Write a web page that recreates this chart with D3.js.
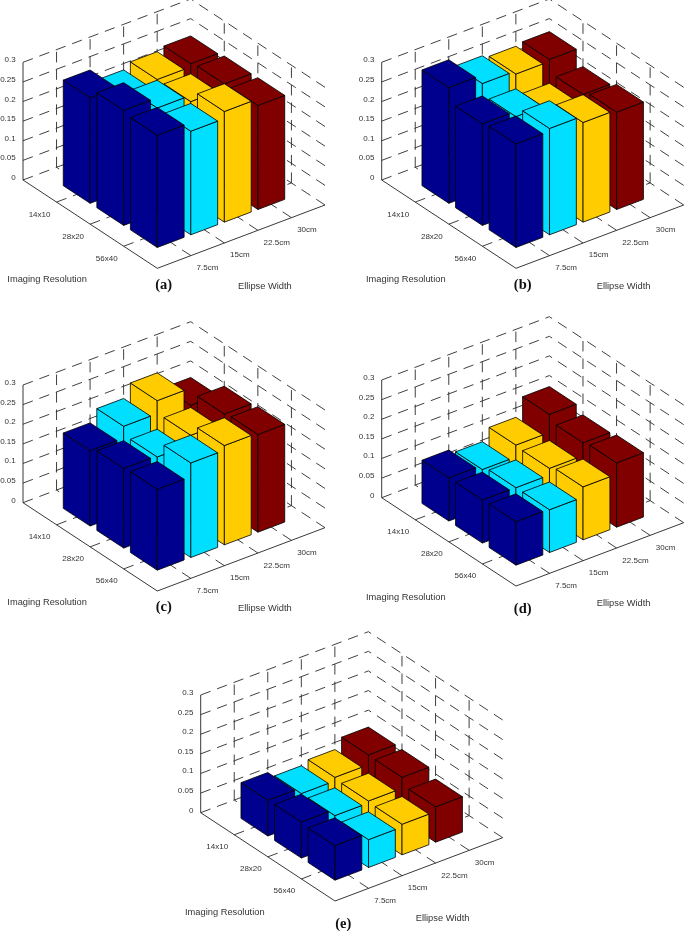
<!DOCTYPE html>
<html><head><meta charset="utf-8">
<style>html,body{margin:0;padding:0;background:#fff}svg{display:block;filter:blur(.4px)}text{font-family:"Liberation Sans",Arial,sans-serif}</style>
<script src="https://cdn.jsdelivr.net/npm/d3@7/dist/d3.min.js"></script>
</head><body><div id="chart"></div>
<script>
const resolutionLabels = ["14x10","28x20","56x40"];
const ellipseLabels = ["7.5cm","15cm","22.5cm","30cm"];
const zTicks = [0,0.05,0.1,0.15,0.2,0.25,0.3];
const zTickLabels = ["0","0.05","0.1","0.15","0.2","0.25","0.3"];
const barColors = ["#00008f","#00dfff","#ffcc00","#800000"];
const panelNames = ["(a)","(b)","(c)","(d)","(e)"];
// rows: resolution; columns: ellipse width
const valuesA = [[.269,.237,.251,.259],[.293,.267,.251,.264],[.286,.264,.282,.265]];
const valuesB = [[.295,.273,.265,.270],[.259,.245,.227,.237],[.264,.271,.254,.248]];
const valuesC = [[.192,.222,.255,.211],[.203,.200,.223,.245],[.206,.241,.253,.249]];
const valuesD = [[.110,.099,.129,.175],[.110,.109,.126,.159],[.111,.109,.135,.164]];
const valuesE = [[.091,.076,.085,.110],[.092,.076,.081,.109],[.088,.071,.078,.090]];
const panelValues = [valuesA,valuesB,valuesC,valuesD,valuesE];
const panelOrigins = [[23,180],[381.7,180],[23,502.7],[381.7,497.7],[200.7,812.7]];
const captionPositions = [[163.7,288.5],[522.7,288.5],[163.7,611],[522.7,612.5],[343.3,927.5]];

const W=685,H=931,half=0.4,rMax=4,eMax=5,zMax=0.3;
const rX=d3.scaleLinear([0,rMax],[0,134.3]), rY=d3.scaleLinear([0,rMax],[0,88.3]);
const eX=d3.scaleLinear([0,eMax],[0,167.7]), eY=d3.scaleLinear([0,eMax],[0,-63.3]);
const zY=d3.scaleLinear([0,zMax],[0,-117.7]);
const proj=(e,r,z)=>[rX(r)+eX(e), rY(r)+eY(e)+zY(z)];
const line=d3.line();
const svg=d3.select("#chart").append("svg").attr("width",W).attr("height",H);
const gridC="#2a2a2a", axisC="#222", dash="10.5 7";

panelValues.forEach((vals,pi)=>{
  const g=svg.append("g").attr("transform",`translate(${panelOrigins[pi]})`);
  const dashed=(a,b)=>g.append("path").attr("d",line([a,b])).attr("fill","none").attr("stroke",gridC).attr("stroke-width",.9).attr("stroke-dasharray",dash);
  const solid=(a,b)=>g.append("path").attr("d",line([a,b])).attr("fill","none").attr("stroke",axisC).attr("stroke-width",.9);
  // wall grids
  zTicks.forEach(z=>{
    dashed(proj(0,0,z),proj(eMax,0,z));
    dashed(proj(eMax,rMax,z),proj(eMax,0,z));
  });
  d3.range(1,eMax).forEach(e=>{
    dashed(proj(e,0,0),proj(e,0,zMax));
    dashed(proj(e,rMax,0),proj(e,0,0));
  });
  d3.range(1,rMax).forEach(r=>{
    dashed(proj(eMax,r,0),proj(eMax,r,zMax));
    dashed(proj(0,r,0),proj(eMax,r,0));
  });
  // axes
  solid(proj(0,0,0),proj(0,0,zMax));
  solid(proj(0,0,0),proj(0,rMax,0));
  solid(proj(0,rMax,0),proj(eMax,rMax,0));
  // bars, painted back to front
  const bars=[];
  vals.forEach((row,ri)=>row.forEach((v,ei)=>bars.push({r:ri+1,e:ei+1,v,c:ei})));
  bars.sort((a,b)=>a.r-b.r||b.e-a.e);
  const bg=g.append("g").selectAll("g").data(bars).join("g")
    .attr("fill",d=>barColors[d.c]).attr("stroke","#000").attr("stroke-width",.8).attr("stroke-linejoin","round");
  const poly=pts=>line(pts)+"Z";
  bg.append("path").attr("d",d=>poly([proj(d.e-half,d.r-half,0),proj(d.e-half,d.r+half,0),proj(d.e-half,d.r+half,d.v),proj(d.e-half,d.r-half,d.v)]));
  bg.append("path").attr("d",d=>poly([proj(d.e-half,d.r+half,0),proj(d.e+half,d.r+half,0),proj(d.e+half,d.r+half,d.v),proj(d.e-half,d.r+half,d.v)]));
  bg.append("path").attr("d",d=>poly([proj(d.e-half,d.r-half,d.v),proj(d.e-half,d.r+half,d.v),proj(d.e+half,d.r+half,d.v),proj(d.e+half,d.r-half,d.v)]));
  // labels
  const label=(s,x,y,anchor,size=8)=>g.append("text").text(s).attr("x",x).attr("y",y).attr("text-anchor",anchor)
    .attr("dominant-baseline","central").attr("font-size",size).attr("fill","#333");
  zTicks.forEach((z,i)=>{const p=proj(0,0,z);label(zTickLabels[i],p[0]-7.3,p[1]-2.5,"end");});
  resolutionLabels.forEach((s,i)=>{const p=proj(0,i+1,0);label(s,p[0]-17,p[1]+12,"middle");});
  ellipseLabels.forEach((s,i)=>{const p=proj(i+1,rMax,0);label(s,p[0]+5.7,p[1]+12,"start");});
  label("Imaging Resolution",-15.7,99,"start",9.3);
  label("Ellipse Width",215,105.7,"start",9.3);
});
svg.selectAll("text.cap").data(panelNames).join("text").attr("class","cap")
  .text(d=>d).attr("x",(d,i)=>captionPositions[i][0]).attr("y",(d,i)=>captionPositions[i][1])
  .attr("text-anchor","middle").attr("font-size",14.5).attr("font-weight","bold")
  .style("font-family",'"Liberation Serif",serif').attr("fill","#111");
</script></body></html>
